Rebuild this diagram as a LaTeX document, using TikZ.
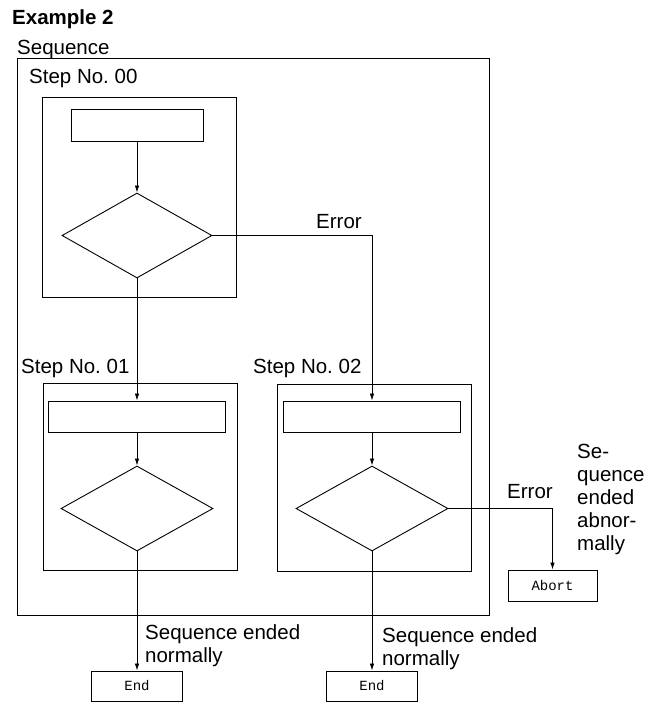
\documentclass[tikz,border=0pt]{standalone}
\usepackage{fontspec}
\setmainfont{Liberation Sans}
\setmonofont{Liberation Mono}
\usetikzlibrary{shapes.geometric,arrows.meta}
\frenchspacing
\begin{document}
\begin{tikzpicture}[x=1pt,y=-1pt,
  lbl/.style={anchor=base west,inner sep=0pt,font=\fontsize{20.5}{23}\selectfont},
  frame/.style={draw,line width=0.9pt,inner sep=0pt},
  procbox/.style={draw,line width=0.9pt,minimum width=177pt,minimum height=31pt,inner sep=0pt},
  decis/.style={draw,diamond,line width=0.9pt,minimum width=152pt,minimum height=85pt,inner sep=0pt},
  termbox/.style={draw,line width=0.9pt,minimum height=31pt,inner sep=0pt,font=\ttfamily\fontsize{14}{16}\selectfont},
  arr/.style={line width=0.8pt,-{Latex[length=7pt,width=4.5pt]}},
]
\useasboundingbox (0,0) rectangle (661,702);

% title and labels
\node[lbl,font=\bfseries\fontsize{20.5}{23}\selectfont] (title) at (12,24) {Example 2};
\node[lbl] (seqlbl) at (17,54) {Sequence};
\node[lbl] (s00lbl) at (29,83) {Step No. 00};
\node[lbl] (s01lbl) at (21,373) {Step No. 01};
\node[lbl] (s02lbl) at (253,373) {Step No. 02};
\node[lbl] (err1) at (316,228) {Error};
\node[lbl] (err2) at (507,498) {Error};
\node[lbl] (ab1) at (577,458) {Se-};
\node[lbl] (ab2) at (577,481) {quence};
\node[lbl] (ab3) at (577,504) {ended};
\node[lbl] (ab4) at (577,527) {abnor-};
\node[lbl] (ab5) at (577,550) {mally};
\node[lbl] (n1a) at (145,639) {Sequence ended};
\node[lbl] (n1b) at (145,662) {normally};
\node[lbl] (n2a) at (382,642) {Sequence ended};
\node[lbl] (n2b) at (382,665) {normally};

% frames
\node[frame,minimum width=472pt,minimum height=557pt] (seq) at (253,336.5) {};
\node[frame,minimum width=194pt,minimum height=200pt] (step00) at (139,197) {};
\node[frame,minimum width=194pt,minimum height=187pt] (step01) at (140,476.5) {};
\node[frame,minimum width=194pt,minimum height=187pt] (step02) at (374,477.5) {};

% step 00
\node[procbox,minimum width=132pt,minimum height=32pt] (rect00) at (137,125) {};
\node[decis,minimum width=150pt] (dia00) at (137,235.5) {};
% step 01
\node[procbox] (rect01) at (137,416.5) {};
\node[decis] (dia01) at (137,508.5) {};
% step 02
\node[procbox] (rect02) at (372,416.5) {};
\node[decis] (dia02) at (372,508.5) {};

% terminals
\node[termbox,minimum width=91pt,minimum height=30pt] (end1) at (137,686) {End};
\node[termbox,minimum width=91pt,minimum height=30pt] (end2) at (372,686) {End};
\node[termbox,minimum width=89pt] (abort) at (552.5,585.5) {Abort};

% connectors
\draw[arr] (rect00) -- (dia00);
\draw[arr] (dia00.south) -- (rect01.north);
\draw[arr] (dia00.east) -| (rect02.north);
\draw[arr] (rect01) -- (dia01);
\draw[arr] (rect02) -- (dia02);
\draw[arr] (dia01.south) -- (end1.north);
\draw[arr] (dia02.south) -- (end2.north);
\draw[arr] (dia02.east) -| (abort.north);
\end{tikzpicture}
\end{document}
